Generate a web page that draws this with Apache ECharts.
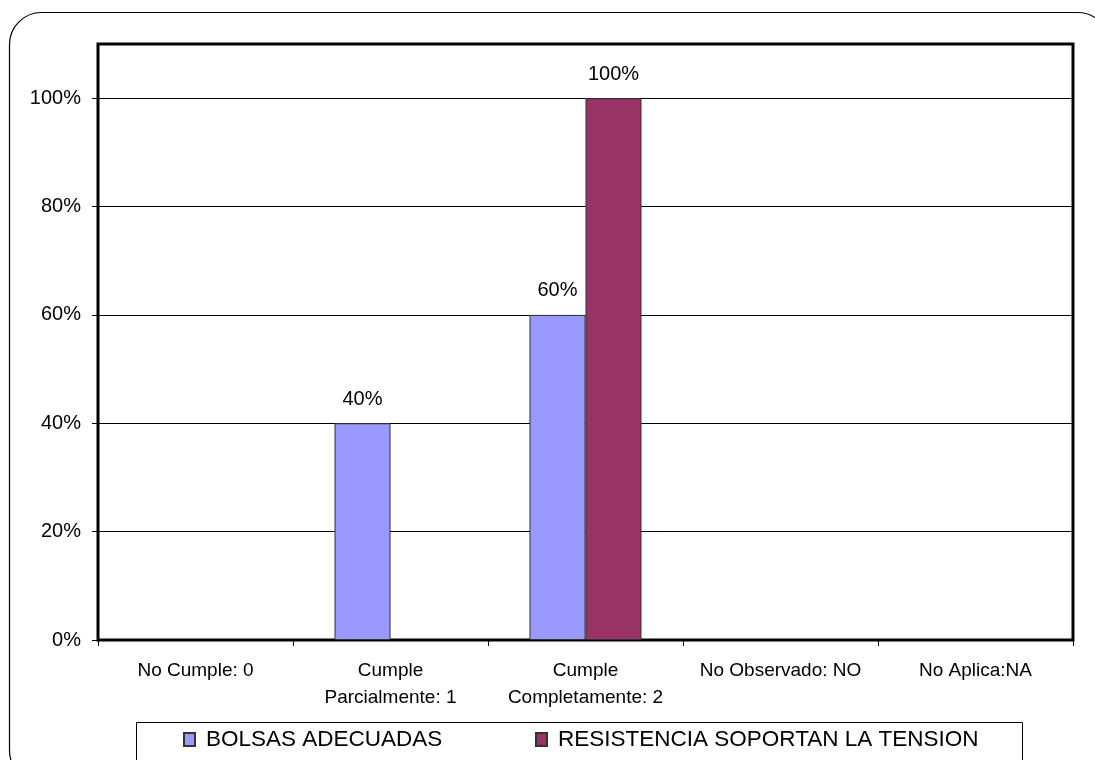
<!DOCTYPE html>
<html>
<head>
<meta charset="utf-8">
<script src="https://cdn.jsdelivr.net/npm/echarts@6/dist/echarts.min.js"></script>
<style>
html,body{margin:0;padding:0;background:#fff;}
#chart{width:1095px;height:760px;}
</style>
</head>
<body>
<div id="chart"></div>
<script>
var categories = ['No Cumple: 0', 'Cumple\nParcialmente: 1', 'Cumple\nCompletamente: 2', 'No Observado: NO', 'No Aplica:NA'];
var seriesNames = ['BOLSAS ADECUADAS', 'RESISTENCIA SOPORTAN LA TENSION'];
var bolsas = [0, 0.4, 0.6, 0, 0];
var resistencia = [0, 0, 1.0, 0, 0];
var yTicks = [0, 0.2, 0.4, 0.6, 0.8, 1.0];
var colors = ['#9999FF', '#993366'];

var FONT = 'Liberation Sans, Arial, sans-serif';
var chart = echarts.init(document.getElementById('chart'), null, {renderer: 'canvas'});

function pctLabel(p) {
  return p.value > 0 ? Math.round(p.value * 100) + '%' : '';
}
function toItems(arr) {
  return arr.map(function (v) {
    return v > 0 ? v : {value: v, itemStyle: {borderWidth: 0}};
  });
}

var legendText = {fontFamily: FONT, fontSize: 22.5, color: '#000', padding: [0, 0, 0, 6]};

var option = {
  backgroundColor: '#fff',
  animation: false,
  textStyle: {fontFamily: FONT},
  grid: {
    left: 98, right: 22, top: 44, bottom: 120,
    show: true, borderColor: '#000', borderWidth: 3, backgroundColor: 'transparent'
  },
  legend: [
    {
      data: [seriesNames[0]], left: 178, top: 723,
      icon: 'rect', itemWidth: 11, itemHeight: 13, itemGap: 4,
      textStyle: legendText
    },
    {
      data: [seriesNames[1]], left: 530, top: 723,
      icon: 'rect', itemWidth: 11, itemHeight: 13, itemGap: 4,
      textStyle: legendText
    }
  ],
  xAxis: {
    type: 'category',
    data: categories,
    axisLine: {show: true, lineStyle: {color: '#000', width: 1}},
    axisTick: {show: true, length: 6, lineStyle: {color: '#000'}},
    axisLabel: {
      interval: 0, margin: 17, color: '#000', fontFamily: FONT, fontSize: 19, lineHeight: 27
    },
    splitLine: {show: false}
  },
  yAxis: {
    type: 'value',
    min: 0, max: 1.1, interval: 0.2,
    axisLine: {show: true, lineStyle: {color: '#000', width: 1}},
    axisTick: {show: true, length: 6, lineStyle: {color: '#000'}, customValues: yTicks},
    axisLabel: {
      margin: 17, color: '#000', fontFamily: FONT, fontSize: 20,
      customValues: yTicks,
      formatter: function (v) { return Math.round(v * 100) + '%'; }
    },
    splitLine: {show: true, lineStyle: {color: '#000', width: 1}}
  },
  series: [
    {
      name: seriesNames[0], type: 'bar', data: toItems(bolsas),
      barWidth: 56, barGap: '0%',
      itemStyle: {color: colors[0], borderColor: '#333', borderWidth: 1},
      label: {show: true, position: 'top', distance: 14, color: '#000', fontFamily: FONT, fontSize: 20, formatter: pctLabel}
    },
    {
      name: seriesNames[1], type: 'bar', data: toItems(resistencia),
      barWidth: 56, barGap: '0%',
      itemStyle: {color: colors[1], borderColor: '#333', borderWidth: 1},
      label: {show: true, position: 'top', distance: 14, color: '#000', fontFamily: FONT, fontSize: 20, formatter: pctLabel}
    }
  ],
  graphic: [
    {
      type: 'rect', z: -10, silent: true,
      shape: {x: 9.5, y: 12.5, width: 1100, height: 770, r: 32},
      style: {fill: 'none', stroke: '#000', lineWidth: 1.2}
    },
    {
      type: 'rect', z: -5, silent: true,
      shape: {x: 136.5, y: 722.5, width: 886, height: 60},
      style: {fill: '#fff', stroke: '#000', lineWidth: 1}
    }
  ]
};
chart.setOption(option);
</script>
</body>
</html>
